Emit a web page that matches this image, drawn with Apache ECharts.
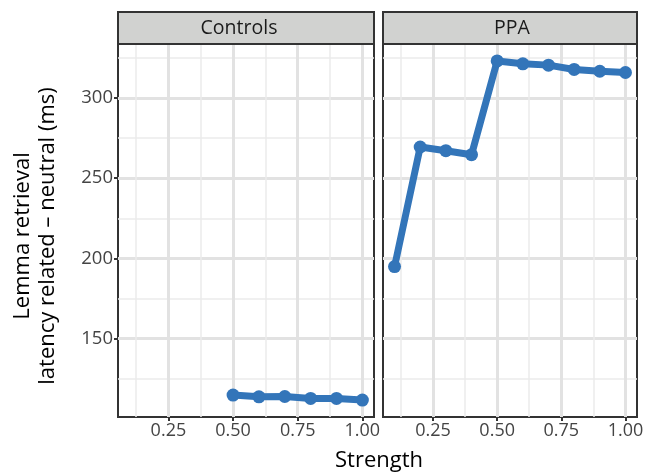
<!DOCTYPE html>
<html><head><meta charset="utf-8">
<script src="https://cdn.jsdelivr.net/npm/echarts@6/dist/echarts.min.js"></script>
<style>html,body{margin:0;padding:0;background:#fff}#c{width:648px;height:476px}</style>
</head><body><div id="c"></div>
<script>
const panels = ['Controls', 'PPA'];
const controlsX = [0.5, 0.6, 0.7, 0.8, 0.9, 1.0];
const controlsY = [114.9, 113.8, 114.0, 112.8, 112.8, 111.8];
const ppaX = [0.1, 0.2, 0.3, 0.4, 0.5, 0.6, 0.7, 0.8, 0.9, 1.0];
const ppaY = [194.9, 269.4, 267.1, 264.6, 323.0, 321.2, 320.4, 317.7, 316.6, 315.8];
const yMajorTicks = [150, 200, 250, 300];
const yMinorTicks = [125, 175, 225, 275, 325];
const xMajorTicks = [0.25, 0.5, 0.75, 1.0];
const xMinorTicks = [0.125, 0.375, 0.625, 0.875];
const xTitle = 'Strength';
const yTitleLines = ['Lemma retrieval', 'latency related \u2013 neutral (ms)'];

const FONT = 'Open Sans';
const LINE = '#3375b9';
const allX = controlsX.concat(ppaX), allY = controlsY.concat(ppaY);
function expand(a) { const lo = Math.min(...a), hi = Math.max(...a), d = (hi - lo) * 0.05; return [lo - d, hi + d]; }
const [xMin, xMax] = expand(allX);
const [yMin, yMax] = expand(allY);

const grids = [
  { left: 118, top: 44, width: 256, height: 373 },
  { left: 383, top: 44, width: 254, height: 373 }
];
const majorLine = { show: true, lineStyle: { color: '#e2e2e2', width: 3 } };
const minorLine = { show: true, lineStyle: { color: '#ebebeb', width: 1.5 } };

const xAxes = [], yAxes = [], series = [];
grids.forEach((g, i) => {
  xAxes.push({
    type: 'value', gridIndex: i, min: xMin, max: xMax, position: 'bottom',
    axisLine: { show: false },
    axisTick: { show: true, length: 4, lineStyle: { color: '#333', width: 2 }, customValues: xMajorTicks },
    axisLabel: { customValues: xMajorTicks, formatter: v => v.toFixed(2), color: '#444', fontSize: 18, fontFamily: FONT, margin: 5 },
    splitLine: majorLine
  });
  xAxes.push({
    type: 'value', gridIndex: i, min: xMin, max: xMax, position: 'top',
    axisLine: { show: false }, axisLabel: { show: false },
    axisTick: { show: false, customValues: xMinorTicks },
    splitLine: minorLine
  });
  yAxes.push({
    type: 'value', gridIndex: i, min: yMin, max: yMax, position: 'left',
    axisLine: { show: false },
    axisTick: { show: i === 0, length: 4, lineStyle: { color: '#333', width: 2 }, customValues: yMajorTicks },
    axisLabel: { show: i === 0, customValues: yMajorTicks, color: '#444', fontSize: 18.5, fontFamily: FONT, margin: 5 },
    splitLine: majorLine
  });
  yAxes.push({
    type: 'value', gridIndex: i, min: yMin, max: yMax, position: 'right',
    axisLine: { show: false }, axisLabel: { show: false },
    axisTick: { show: false, customValues: yMinorTicks },
    splitLine: minorLine
  });
});

const sets = [[controlsX, controlsY], [ppaX, ppaY]];
sets.forEach(([xs, ys], i) => {
  series.push({
    type: 'line', xAxisIndex: 2 * i, yAxisIndex: 2 * i,
    data: xs.map((x, k) => [x, ys[k]]),
    symbol: 'circle', symbolSize: 13, showSymbol: true,
    lineStyle: { color: LINE, width: 7 }, itemStyle: { color: LINE },
    emphasis: { disabled: true }, animation: false, z: 5
  });
});

const graphic = [];
const stripCenters = [239, 512];
grids.forEach((g, i) => {
  graphic.push({ type: 'rect', shape: { x: g.left, y: 12, width: g.width, height: 32 },
    style: { fill: '#d1d2d0', stroke: '#333', lineWidth: 2 }, z: 10 });
  graphic.push({ type: 'text', x: stripCenters[i], y: 28,
    style: { text: panels[i], fill: '#1a1a1a', font: '19.5px "' + FONT + '"', textAlign: 'center', textVerticalAlign: 'middle' }, z: 11 });
});
graphic.push({ type: 'text', x: 379, y: 461,
  style: { text: xTitle, fill: '#000', font: '22px "' + FONT + '"', textAlign: 'center', textVerticalAlign: 'middle' } });
[23, 48].forEach((cx, k) => {
  graphic.push({ type: 'text', x: cx, y: 236, rotation: Math.PI / 2,
    style: { text: yTitleLines[k], fill: '#000', font: '22px "' + FONT + '"', textAlign: 'center', textVerticalAlign: 'middle' } });
});

const chart = echarts.init(document.getElementById('c'), null, { renderer: 'canvas' });
chart.setOption({
  animation: false,
  backgroundColor: '#fff',
  grid: grids.map(g => Object.assign({ show: true, borderColor: '#333', borderWidth: 2, backgroundColor: '#fff', z: 0 }, g)),
  xAxis: xAxes, yAxis: yAxes, series: series, graphic: graphic
});
</script></body></html>
